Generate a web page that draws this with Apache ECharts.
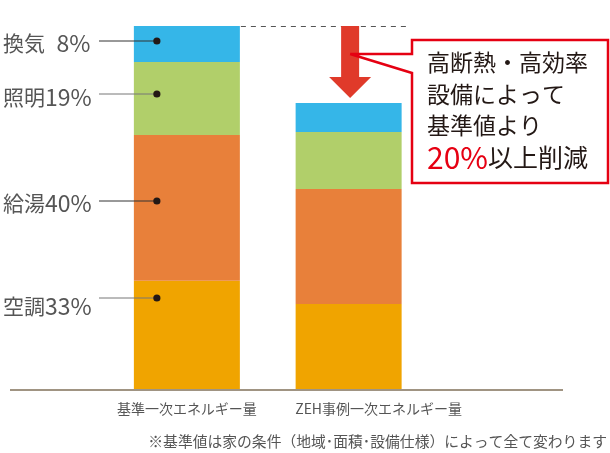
<!DOCTYPE html>
<html><head><meta charset="utf-8">
<script src="https://cdn.jsdelivr.net/npm/echarts@6/dist/echarts.min.js"></script>
<style>html,body{margin:0;padding:0;background:#fff}#c{width:610px;height:453px}</style>
</head><body><div id="c"></div>
<script>
// ---- data ----
const categories = ['基準一次エネルギー量', 'ZEH事例一次エネルギー量'];
const seriesNames = ['空調', '給湯', '照明', '換気'];
const airCon = [29.8, 23.4];
const hotWater = [40.2, 31.7];
const lighting = [20.1, 15.7];
const ventilation = [9.9, 8.0];
const shareNames = ['換気', '照明', '給湯', '空調'];
const sharePercents = ['8%', '19%', '40%', '33%'];
const calloutLines = ['高断熱・高効率', '設備によって', '基準値より'];
const calloutRed = '20%';
const calloutTail = '以上削減';
const footnote = '※基準値は家の条件（地域･面積･設備仕様）によって全て変わります';

const FONT = "'Noto Sans CJK JP', 'Noto Sans', sans-serif";
const colors = ['#f0a400', '#e8803a', '#b1cf6a', '#35b6e8'];
const seriesData = [airCon, hotWater, lighting, ventilation];

const chart = echarts.init(document.getElementById('c'), null, {renderer: 'canvas'});
chart.setOption({
  animation: false,
  backgroundColor: '#fff',
  grid: {left: 106, right: 180.5, top: 26, bottom: 64},
  xAxis: {
    type: 'category',
    data: [
      {value: categories[0]},
      {value: categories[1], textStyle: {padding: [0, 0, 0, 60]}}
    ],
    axisLine: {show: false}, axisTick: {show: false},
    axisLabel: {color: '#555', fontSize: 14, fontFamily: FONT, margin: 13, interval: 0}
  },
  yAxis: {type: 'value', min: 0, max: 100, show: false},
  series: seriesNames.map((n, i) => ({
    name: n, type: 'bar', stack: 'total', barWidth: 106,
    itemStyle: {color: colors[i]}, data: seriesData[i]
  }))
});

// annotations positioned from the scales
const total = categories.map((_, j) => seriesData.reduce((s, a) => s + a[j], 0));
const yTop1 = chart.convertToPixel({yAxisIndex: 0}, total[0]);
const yTop2 = chart.convertToPixel({yAxisIndex: 0}, total[1]);
const x1 = chart.convertToPixel({xAxisIndex: 0}, categories[0]);
const x2 = chart.convertToPixel({xAxisIndex: 0}, categories[1]);
const yBase = chart.convertToPixel({yAxisIndex: 0}, 0);

const g = [];
// axis base line
g.push({type: 'line', z: 10, shape: {x1: 10, y1: yBase + 1, x2: 563, y2: yBase + 1}, style: {stroke: '#a09482', lineWidth: 2}});
// left share labels with leaders
const labelY = [43, 97, 203, 306];
const dotY = [41, 94, 201, 298];
const leaderColor = ['#333', '#777', '#333', '#777'];
shareNames.forEach((t, i) => {
  const gap = sharePercents[i].length < 3 ? '\u2002' : '';
  g.push({type: 'text', x: 3, y: labelY[i], z: 10, style: {
    text: '{c|' + t + '}{n|' + gap + sharePercents[i] + '}',
    fontFamily: FONT, fill: '#555', verticalAlign: 'middle', align: 'left',
    rich: {
      c: {fontSize: 21, fontFamily: FONT, fill: '#555'},
      n: {fontSize: 23, fontFamily: FONT, fill: '#555'}
    }
  }});
  g.push({type: 'line', z: 10, shape: {x1: 99, y1: dotY[i], x2: x1 - 30, y2: dotY[i]}, style: {stroke: leaderColor[i], lineWidth: 1}});
  g.push({type: 'circle', z: 11, shape: {cx: x1 - 30, cy: dotY[i], r: 3.6}, style: {fill: '#231815'}});
});
// dashed reference line at baseline total
g.push({type: 'line', z: 10, shape: {x1: x1 + 54, y1: yTop1 + 0.5, x2: 410, y2: yTop1 + 0.5}, style: {stroke: '#555', lineWidth: 1, lineDash: [5, 5]}});
// red arrow
const ax = x2 + 1.5, tip = yTop2 - 5;
g.push({type: 'polygon', z: 10, shape: {points: [
  [ax - 9, yTop1], [ax + 9, yTop1], [ax + 9, tip - 21], [ax + 21, tip - 21],
  [ax, tip], [ax - 21, tip - 21], [ax - 9, tip - 21]
]}, style: {fill: '#e03a2a'}});
// callout box
g.push({type: 'rect', z: 10, shape: {x: 412, y: 40, width: 196, height: 143}, style: {fill: '#fff'}});
g.push({type: 'polyline', z: 12, shape: {points: [
  [ax, 54], [412, 54], [412, 40], [608, 40], [608, 183], [412, 183], [412, 73], [ax, 54]
]}, style: {stroke: '#e50012', lineWidth: 2.5, fill: null}});
g.push({type: 'text', z: 13, x: 427, y: 47, style: {
  text: calloutLines.map(l => '{b|' + l + '}').join('\n') + '\n{r|' + calloutRed + '}{t|' + calloutTail + '}',
  fontSize: 23, fontFamily: FONT, fill: '#231815', verticalAlign: 'top', align: 'left',
  rich: {
    b: {fill: '#231815', fontSize: 23, fontFamily: FONT, lineHeight: 31.5},
    r: {fill: '#e60012', fontSize: 30, fontFamily: FONT, lineHeight: 31.5},
    t: {fill: '#231815', fontSize: 25, fontFamily: FONT, lineHeight: 31.5}
  }
}});
// footnote
g.push({type: 'text', z: 10, x: 607, y: 441, style: {text: footnote, fontSize: 14.8, fontFamily: FONT, fill: '#555', verticalAlign: 'middle', align: 'right'}});

chart.setOption({graphic: g});
</script>
</body></html>
